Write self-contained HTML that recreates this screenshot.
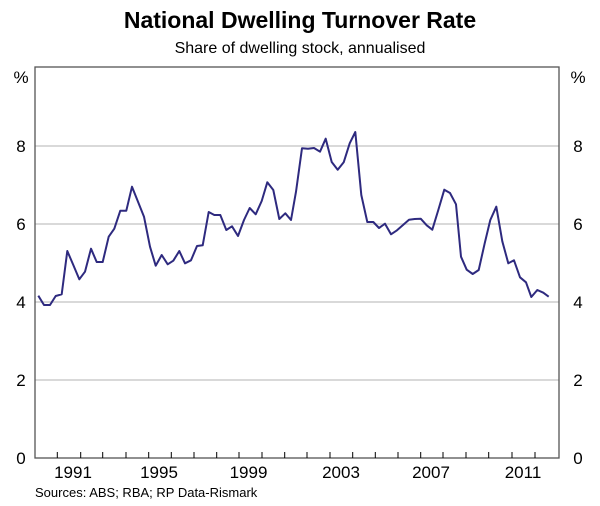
<!DOCTYPE html><html><head><style>body{margin:0;background:#fff}svg{display:block;font-family:"Liberation Sans",Arial,sans-serif}</style></head><body>
<svg width="600" height="506" viewBox="0 0 600 506">
<text x="300" y="28" text-anchor="middle" font-size="23" font-weight="bold">National Dwelling Turnover Rate</text>
<text x="300" y="53" text-anchor="middle" font-size="16">Share of dwelling stock, annualised</text>
<g stroke="#d9d9d9" stroke-width="2"><line x1="35" x2="559" y1="146" y2="146"/><line x1="35" x2="559" y1="224" y2="224"/><line x1="35" x2="559" y1="302" y2="302"/><line x1="35" x2="559" y1="380" y2="380"/></g>
<g stroke="#555" stroke-width="1.3" fill="none"><rect x="35" y="67" width="524" height="391"/></g>
<g stroke="#000" stroke-width="1"><path d="M57.3 458v-6M80.7 458v-6M102.7 458v-6M126 458v-6M148.7 458v-6M171.3 458v-6M194 458v-6M216.7 458v-6M239 458v-6M262 458v-6M284.7 458v-6M307 458v-6M330 458v-6M352.7 458v-6M375.3 458v-6M398 458v-6M420.7 458v-6M443 458v-6M466 458v-6M488.7 458v-6M512 458v-6M535 458v-6"/></g>
<g font-size="17"><text x="21" y="83" text-anchor="middle">%</text><text x="578" y="83" text-anchor="middle">%</text>
<g text-anchor="middle"><text x="21" y="152">8</text><text x="21" y="230">6</text><text x="21" y="308">4</text><text x="21" y="386">2</text><text x="21" y="464">0</text>
<text x="578" y="152">8</text><text x="578" y="230">6</text><text x="578" y="308">4</text><text x="578" y="386">2</text><text x="578" y="464">0</text>
<text x="73" y="478">1991</text><text x="159" y="478">1995</text><text x="248.5" y="478">1999</text><text x="341" y="478">2003</text><text x="431" y="478">2007</text><text x="523" y="478">2011</text></g></g>
<text x="35" y="497" font-size="13">Sources: ABS; RBA; RP Data-Rismark</text>
<polyline fill="none" stroke="#2e2a7f" stroke-width="2" stroke-linejoin="round" points="38.3,295.7 44,305 50,305 55.7,296 61.7,294.3 67.3,251 73.3,265 79.3,279.3 85,271.7 91,248.7 96.7,262 102.7,262 108.7,236.7 114.3,228.7 120.3,210.7 126.3,210.7 132,186.7 138,201.7 144,216.7 150,246.7 155.7,265.7 161.7,255 167.7,264.3 173.3,260.7 179.3,251 185,263.3 191,260.3 197,246 202.7,245.3 208.7,212 214.3,215 220.3,215 226.3,230 232,226.3 238,236 244,220 249.7,208 255.7,214.3 261.7,201 267.3,182.3 273.3,190 279.3,219 285.3,213.3 291,220 296,191.7 302,148.3 308,148.7 314,148 320,151.7 325.7,138.7 331.7,162 337.7,169.7 343.7,162.3 349.7,143.3 355.3,132 361.3,195 367.3,222 373.3,222 379,228 385,223.7 391,234.3 397,230.3 403,225 409,219.7 414.7,219 420.7,218.7 426.7,225.3 432.3,229.7 438.3,210 444.3,189.7 450,193 456,204.3 461,256.7 466.7,269.7 472.7,274 478.7,270 484.7,243.3 490.3,220 496.3,206.7 502.3,241.3 508.3,263.3 514,260.3 520,277.3 526,282.3 531.3,297 537.3,290 543.3,292.7 548.7,296.7"/>
</svg></body></html>
